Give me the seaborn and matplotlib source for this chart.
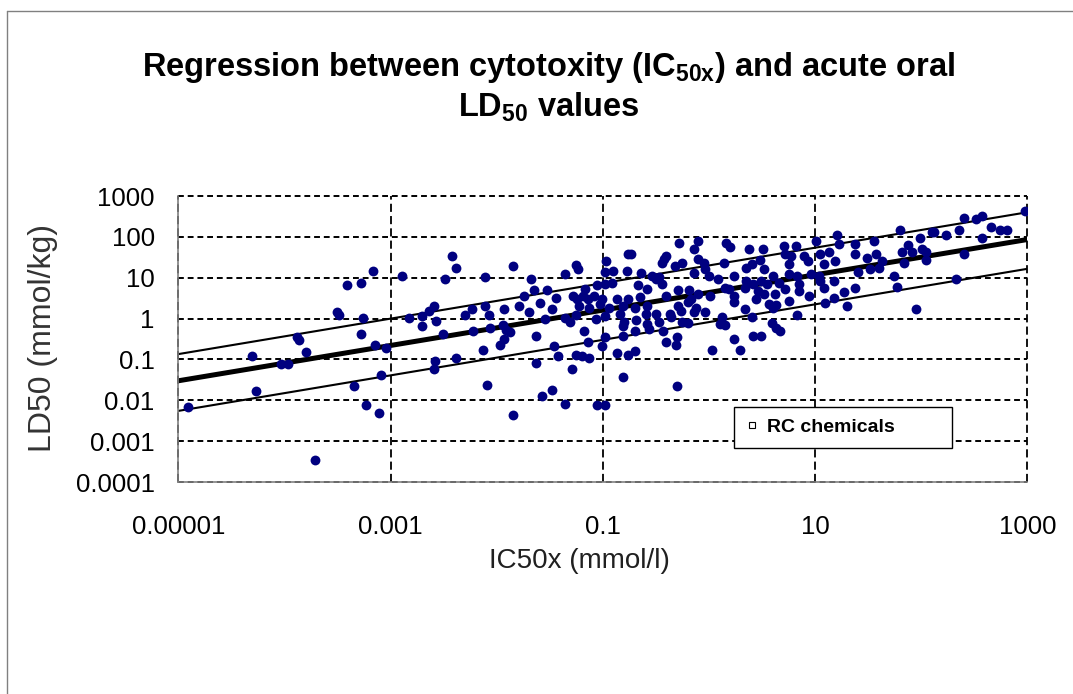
import matplotlib
matplotlib.use("Agg")
import matplotlib.pyplot as plt
from matplotlib.lines import Line2D
import seaborn as sns
import pandas as pd
import numpy as np

# log10 IC50x (mmol/l) and log10 LD50 (mmol/kg)
log_ic50 = [
    -4.91, -4.31, -4.27, -4.03, -3.97, -3.88, -3.86, -3.80, -3.71, -3.50, -3.49, -3.41, -3.34, -3.28, -3.28,
    -3.26, -3.23, -3.17, -3.15, -3.11, -3.09, -3.04, -2.89, -2.83, -2.70, -2.70, -2.64, -2.59, -2.59, -2.58,
    -2.57, -2.51, -2.49, -2.42, -2.38, -2.38, -2.30,
    -1.85, -2.11, -1.68, -1.65, -1.53, -1.36, -1.25, -1.23, -1.74, -1.44, -1.79, -1.59, -1.48, -1.70, -1.93,
    -2.23, -2.11, -2.07, -1.54, -2.22, -2.06, -1.94, -1.91, -1.87, -1.93, -1.97, -1.63, -2.13, -1.46, -1.42,
    -1.63, -1.29, -1.25, -1.20, -1.13, -1.18, -1.14, -2.09, -1.57, -1.48, -1.36, -1.85, -1.05, -0.98, -1.28,
    -1.24, -1.19, -1.14, -1.08, -1.17, -1.01, -1.05, -0.98, -1.22, -1.13, -1.03, -1.36, -1.31, -1.25, -1.06,
    -0.98, -0.98, -1.01, -0.97, -0.98,
    -0.28, -0.10, -0.14, 0.16, 0.20, -0.76, -0.73, -0.42, -0.40, -0.44, -0.32, -0.25, -0.10, -0.05, -0.04,
    0.14, -0.77, -0.90, -0.64, -0.54, -0.50, -0.47, -0.14, 0.00, 0.09, 0.24, -0.91, -0.67, -0.58, -0.44,
    -0.29, -0.19, -0.10, 0.01, 0.15, 0.19, 0.24, 0.34, -0.87, -0.76, -0.65, -0.40, -0.17, 0.24, -0.94,
    -0.81, -0.70, -0.58, -0.29, -0.20, -0.12, -0.84, -0.59, -0.50, -0.37, -0.26, -0.14, -0.04, 0.34, -0.80,
    -0.69, -0.58, -0.47, -0.36, -0.25, -0.20, 0.12, -0.81, -0.70, -0.56, -0.43, 0.10, 0.15, -0.81, -0.40,
    -0.30, -0.31, 0.24, -0.87, -0.76, -0.70, 0.03, 0.29, -0.81, -0.30,
    0.38, 0.51, 0.71, 0.82, 1.01, 1.21, 1.23, 1.38, 1.56, 0.48, 0.41, 0.72, 0.77, 0.90, 0.93,
    1.05, 1.13, 1.19, 1.38, 1.49, 1.57, 1.63, 0.35, 0.52, 0.60, 0.75, 0.75, 0.83, 0.96, 1.04,
    1.08, 1.40, 1.52, 1.60, 0.35, 0.42, 0.49, 0.55, 0.66, 0.85, 1.05, 1.18, 0.46, 0.52, 0.72,
    0.85, 1.08, 1.27, 1.38, 0.44, 0.62, 0.75, 0.94, 1.18, 0.57, 0.63, 1.09, 1.30, 0.60, 0.41,
    0.83, 0.59, 0.63, 0.67, 0.42, 0.49,
    1.80, 1.99, 2.10, 2.12, 2.23, 2.36, 2.40, 2.52, 2.57, 2.57, 2.66, 2.74, 2.81, 2.98, 1.82,
    1.88, 1.91, 2.01, 2.05, 2.05, 1.84, 2.40, 1.74, 1.77, 2.33, 1.95,
]
log_ld50 = [
    -2.17, -0.91, -1.77, -1.10, -1.10, -0.44, -0.53, -0.83, -3.47, 0.15, 0.09, 0.82, -1.64, 0.88, -0.37,
    0.02, -2.12, 1.16, -0.64, -2.31, -1.38, -0.72, 1.03, 0.02, 0.07, -0.18, 0.19, 0.31, -1.24, -1.03,
    -0.06, -0.37, 0.96, 1.54, 1.23, -0.97, 0.09,
    1.29, 1.02, 0.97, 0.70, 0.70, 1.10, 1.32, 1.21, 0.56, 0.50, 0.31, 0.37, 0.23, 0.17, 0.23,
    0.23, 0.30, 0.09, -0.01, -0.30, -0.22, -0.16, -0.28, -0.32, -0.50, -0.64, -0.42, -0.76, -0.68, -0.91,
    -1.09, -1.23, -0.89, -0.91, -0.97, -0.30, -0.57, -1.63, -1.90, -1.76, -2.09, -2.36, -2.11, -2.11, 0.56,
    0.48, 0.56, 0.48, 0.56, 0.72, 0.48, 0.82, 0.84, 0.31, 0.27, 0.35, 0.02, -0.08, 0.09, -0.01,
    0.07, -0.46, -0.66, 1.41, 1.13,
    1.84, 1.90, 1.70, 1.84, 1.76, 1.58, 1.58, 1.45, 1.52, 1.35, 1.29, 1.37, 1.45, 1.37, 1.21,
    1.37, 1.17, 1.17, 1.11, 1.03, 0.97, 1.01, 1.11, 1.05, 0.98, 1.03, 0.88, 0.82, 0.72, 0.84,
    0.70, 0.70, 0.60, 0.56, 0.76, 0.72, 0.56, 0.74, 0.49, 0.49, 0.54, 0.56, 0.48, 0.40, 0.27,
    0.31, 0.27, 0.31, 0.31, 0.40, 0.27, 0.11, 0.11, 0.11, 0.11, 0.19, 0.15, 0.15, 0.23, -0.09,
    -0.03, -0.13, -0.09, 0.03, -0.08, -0.11, 0.03, -0.18, -0.30, -0.26, -0.30, -0.13, -0.16, -0.42, -0.57,
    -0.44, -0.64, -0.50, -0.84, -0.89, -0.79, -0.77, -0.77, -1.44, -1.64,
    1.70, 1.70, 1.78, 1.78, 1.90, 2.05, 1.82, 1.82, 1.90, 1.44, 1.33, 1.57, 1.54, 1.52, 1.41,
    1.57, 1.62, 1.41, 1.57, 1.49, 1.57, 1.41, 1.25, 1.21, 1.05, 1.33, 1.09, 1.05, 1.09, 1.05,
    1.33, 1.13, 1.21, 1.25, 0.92, 0.84, 0.92, 0.84, 0.88, 0.84, 0.92, 0.92, 0.68, 0.60, 0.72,
    0.68, 0.74, 0.64, 0.76, 0.49, 0.60, 0.44, 0.56, 0.50, 0.35, 0.33, 0.37, 0.31, 0.27, 0.03,
    0.09, -0.11, -0.22, -0.31, -0.42, -0.42,
    2.17, 1.98, 2.11, 2.11, 2.04, 2.17, 2.45, 2.43, 2.51, 1.96, 2.23, 2.17, 2.17, 2.64, 1.63,
    1.80, 1.62, 1.71, 1.63, 1.43, 1.37, 1.58, 1.03, 0.78, 0.98, 0.23,
]

# regression line and its two bounds (end points at the axis limits)
line_x = [0.00001, 1000]
fit_y = [0.030, 86]
upper_y = [0.135, 400]
lower_y = [0.0055, 16.5]

x_ticks = [0.00001, 0.001, 0.1, 10, 1000]
x_tick_labels = ['0.00001', '0.001', '0.1', '10', '1000']
y_ticks = [0.0001, 0.001, 0.01, 0.1, 1, 10, 100, 1000]
y_tick_labels = ['0.0001', '0.001', '0.01', '0.1', '1', '10', '100', '1000']

df = pd.DataFrame({'IC50x': 10 ** np.array(log_ic50), 'LD50': 10 ** np.array(log_ld50)})

sns.set_style("white")
plt.rcParams['font.family'] = ['Liberation Sans', 'DejaVu Sans']
plt.rcParams['mathtext.fontset'] = 'custom'
plt.rcParams['mathtext.rm'] = 'Liberation Sans'
plt.rcParams['mathtext.bf'] = 'Liberation Sans:bold'
plt.rcParams['text.color'] = 'black'
plt.rcParams['axes.labelcolor'] = 'black'

W, H = 1073, 694
fig = plt.figure(figsize=(W / 100, H / 100), dpi=100)
fig.patch.set_facecolor('white')

# chart area border (top and left edge visible)
fig.add_artist(Line2D([7 / W, 7 / W], [0, 1 - 10.5 / H], color='#808080', lw=1.0))
fig.add_artist(Line2D([7 / W, 1], [1 - 10.5 / H, 1 - 10.5 / H], color='#808080', lw=1.0))

ax = fig.add_axes([178.3 / W, 1 - 482 / H, 849 / W, 286 / H])
ax.set_xscale('log')
ax.set_yscale('log')

ax.plot(line_x, fit_y, color='black', lw=3.6, zorder=2, solid_capstyle='butt')
ax.plot(line_x, upper_y, color='black', lw=1.5, zorder=2)
ax.plot(line_x, lower_y, color='black', lw=1.5, zorder=2)

sns.scatterplot(data=df, x='IC50x', y='LD50', ax=ax, color='#000080', s=50,
                linewidth=0, legend=False, zorder=3)

ax.set_xlim(0.00001, 1000)
ax.set_ylim(0.0001, 1000)
ax.set_xticks(x_ticks, x_tick_labels)
ax.set_yticks(y_ticks, y_tick_labels)
ax.minorticks_off()

ax.set_axisbelow(True)
ax.yaxis.grid(True, color='black', lw=1.4, linestyle=(0, (3.0, 2.0)))
ax.xaxis.grid(True, color='black', lw=1.3, linestyle=(0, (4.5, 2.3)))
for gl in ax.get_xgridlines() + ax.get_ygridlines():
    gl.set_clip_on(False)

for side in ['top', 'right']:
    ax.spines[side].set_visible(False)
for side in ['left', 'bottom']:
    ax.spines[side].set_color('#808080')
    ax.spines[side].set_linewidth(1.2)

ax.tick_params(axis='both', direction='out', length=6, width=1.0, color='#808080',
               labelsize=18.5, labelcolor='black')
ax.tick_params(axis='y', pad=11)
ax.tick_params(axis='x', pad=18)

ax.set_xlabel('IC50x (mmol/l)', fontsize=20, color='#202020')
ax.set_ylabel('LD50 (mmol/kg)', fontsize=23, color='#333333')
ax.xaxis.set_label_coords((579 - 178.3) / 849, (482 - 561) / 286)
ax.yaxis.set_label_coords((43 - 178.3) / 849, (482 - 338) / 286)
ax.xaxis.label.set_va('center')
ax.yaxis.label.set_va('center')

handle = Line2D([], [], marker='s', markersize=4.5, markerfacecolor='white',
                markeredgecolor='black', markeredgewidth=0.8, linestyle='none')
leg = ax.legend([handle], ['RC chemicals'], loc='upper left', mode='expand',
                bbox_to_anchor=((734 - 178.3) / 849, (482 - 453) / 286, 218 / 849, 46 / 286),
                prop={'weight': 'bold', 'size': 14}, frameon=True, fancybox=False,
                framealpha=1, edgecolor='black', borderpad=0.6, handlelength=0.6,
                handletextpad=0.5, borderaxespad=0)
leg.get_frame().set_linewidth(1.0)
for t in leg.get_texts():
    t.set_color('black')

fig.text(548.5 / W, 1 - 76 / H, r'Regression between cytotoxity (IC$\mathbf{_{50x}}$) and acute oral',
         ha='center', va='baseline', fontsize=23.5, fontweight='bold', color='black')
fig.text(548.5 / W, 1 - 117 / H, r'LD$\mathbf{_{50}}$ values',
         ha='center', va='baseline', fontsize=23.5, fontweight='bold', color='black')

fig.savefig('out.png', dpi=100)
